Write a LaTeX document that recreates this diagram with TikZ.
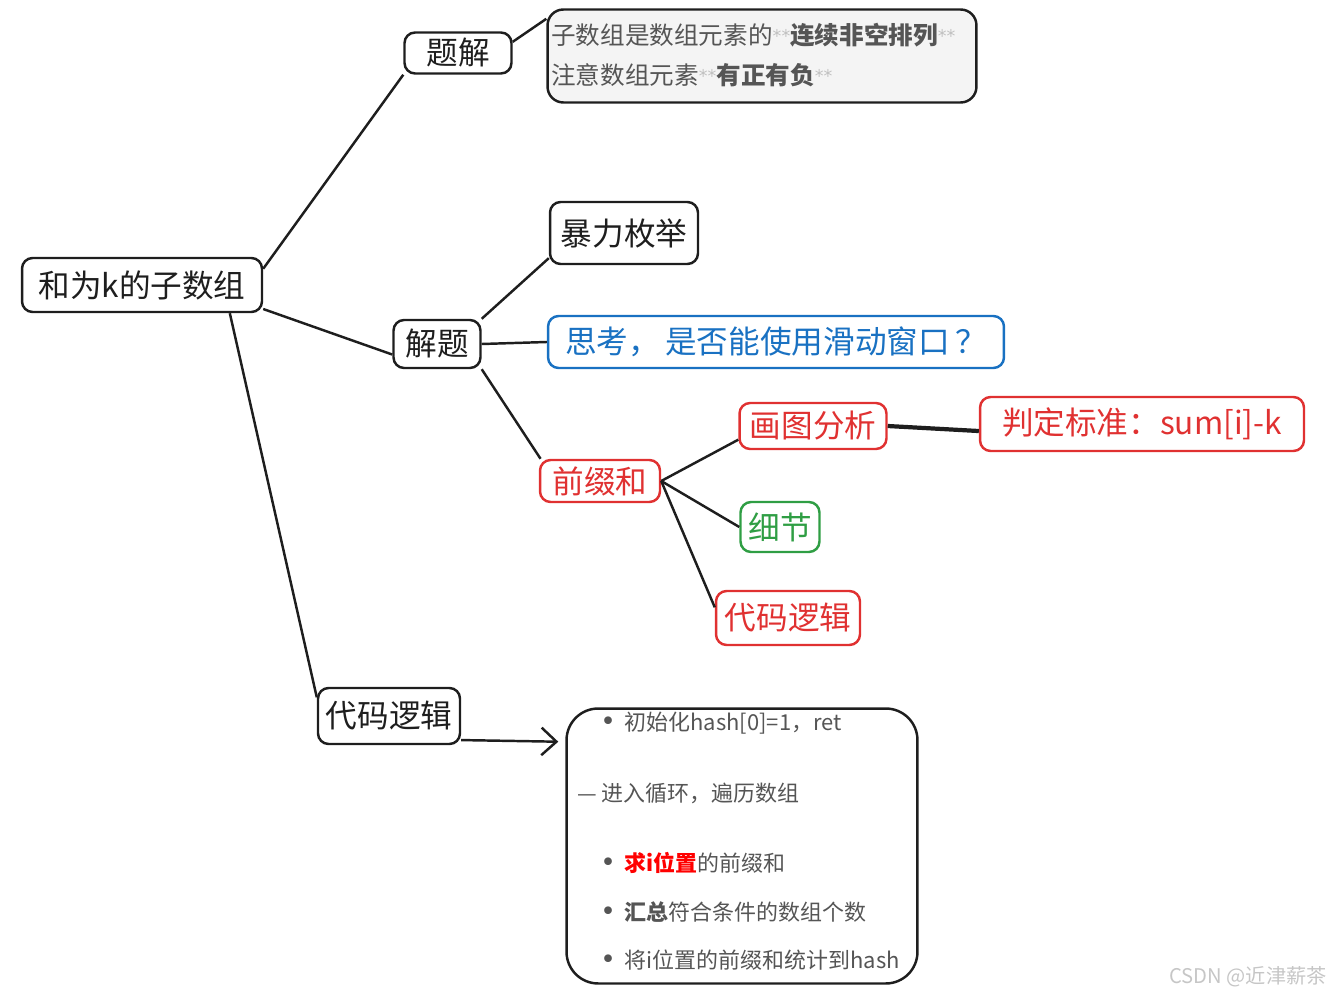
\documentclass[tikz,border=0pt]{standalone}
\usepackage{fontspec}
\setmainfont{Noto Sans CJK SC}
\newfontfamily\dejavu{DejaVu Sans}
\usepackage{xcolor}
\usetikzlibrary{arrows.meta,positioning}
\definecolor{inkblack}{HTML}{1E1E1E}
\definecolor{inkred}{HTML}{E03131}
\definecolor{inkblue}{HTML}{1971C2}
\definecolor{inkgreen}{HTML}{2F9E44}
\definecolor{notegray}{HTML}{555555}
\definecolor{stargray}{HTML}{C0C0C0}
\newcommand{\stars}{{\color{stargray}\dejavu\fontsize{10}{10}\selectfont\raisebox{1pt}{**}}}
\newcommand{\bul}{{\dejavu\fontsize{15}{15}\selectfont •}\hspace{5pt}}
\begin{document}
\begin{tikzpicture}[x=0.02cm, y=-0.02cm,
    topic/.style={rectangle, draw=inkblack, line width=1.4pt, rounded corners=6pt, text=inkblack, inner sep=1pt, font=\fontsize{18}{22}\selectfont},
    redtopic/.style={topic, draw=inkred, text=inkred},
    notebox/.style={rectangle, draw=inkblack, line width=1.4pt, rounded corners=9pt, fill=gray!9},
    noteline/.style={anchor=west, inner sep=0pt, text=notegray, font=\fontsize{14}{16}\selectfont},
    codeline/.style={anchor=west, inner sep=0pt, text=notegray, font=\fontsize{12.5}{15}\selectfont},
    link/.style={line width=1.4pt, draw=inkblack},
  ]
    \useasboundingbox (0,0) rectangle (1338,1000);

    % Root
    \node[topic, minimum width=4.8cm, minimum height=1.08cm] (root) at (142,285) {和为k的子数组};

    % Question
    \node[topic, minimum width=2.14cm, minimum height=0.82cm] (tj) at (458,53) {题解};
    \node[notebox, minimum width=8.58cm, minimum height=1.86cm] (desc) at (762,56) {};
    \node[noteline] (d1) at (551,35) {子数组是数组元素的\stars\textbf{连续非空排列}\stars};
    \node[noteline] (d2) at (551,75) {注意数组元素\stars\textbf{有正有负}\stars};

    % Solving
    \node[topic, minimum width=1.74cm, minimum height=0.96cm] (jt) at (437,344) {解题};
    \node[topic, minimum width=2.96cm, minimum height=1.24cm] (bl) at (624,233) {暴力枚举};
    \node[topic, draw=inkblue, text=inkblue, minimum width=9.12cm, minimum height=1.04cm] (sk) at (776,342) {思考，\,是否能使用滑动窗口\,？};
    \node[redtopic, minimum width=2.4cm, minimum height=0.84cm] (qz) at (600,481) {前缀和};
    \node[redtopic, minimum width=2.94cm, minimum height=0.92cm] (ht) at (813,426) {画图分析};
    \node[redtopic, minimum width=6.48cm, minimum height=1.08cm] (pd) at (1142,424) {判定标准：sum[i]-k};
    \node[topic, draw=inkgreen, text=inkgreen, minimum width=1.58cm, minimum height=1.0cm] (xj) at (780,527) {细节};
    \node[redtopic, minimum width=2.88cm, minimum height=1.08cm] (dm) at (788,618) {代码逻辑};

    % Code logic
    \node[topic, minimum width=2.84cm, minimum height=1.12cm] (dl) at (389,716) {代码逻辑};
    \node[rectangle, draw=inkblack, line width=1.4pt, rounded corners=18pt, minimum width=7.02cm, minimum height=5.5cm] (code) at (742,846) {};
    \node[codeline] (c1) at (600,723) {\bul 初始化hash[0]=1，ret};
    \node[codeline] (c2) at (577,793) {— 进入循环，遍历数组};
    \node[codeline] (c3) at (600,863) {\bul{\color{red}\textbf{求i位置}}的前缀和};
    \node[codeline] (c4) at (600,912) {\bul\textbf{汇总}符合条件的数组个数};
    \node[codeline] (c5) at (600,960) {\bul 将i位置的前缀和统计到hash};

    % Connectors
    \draw[link] (root.north east) ++(0,12) -- (tj.south west);
    \draw[link] (root.east) ++(0,24) -- ([yshift=-6pt]jt.west);
    \draw[link] ([xshift=-19pt]root.south east) -- ([yshift=-6pt]dl.north west);
    \draw[link] ([yshift=-6pt]tj.north east) -- ([yshift=-6pt]desc.north west);
    \draw[link] (jt.north east) -- ([yshift=4pt]bl.south west);
    \draw[link] (jt.east) -- (sk.west);
    \draw[link] (jt.south east) -- ([xshift=1pt]qz.north west);
    \draw[link] (qz.east) -- ([yshift=6pt]ht.south west);
    \draw[link] (qz.east) -- (xj.west);
    \draw[link] (qz.east) -- ([yshift=-10pt]dm.north west);
    \draw[link, line width=2.4pt] (ht.east) -- ([yshift=-4pt]pd.west);
    \draw[link, -{Straight Barb[length=0.3cm, width=0.55cm, line width=1.4pt]}] ([yshift=-13.7pt]dl.east) -- ([xshift=-4pt, yshift=2pt]code.west |- dl.south);

    % Watermark
    \node[anchor=east, text=gray!45, font=\fontsize{11.5}{13}\selectfont] (wm) at (1333,977) {CSDN @近津薪茶};
  \end{tikzpicture}
\end{document}
